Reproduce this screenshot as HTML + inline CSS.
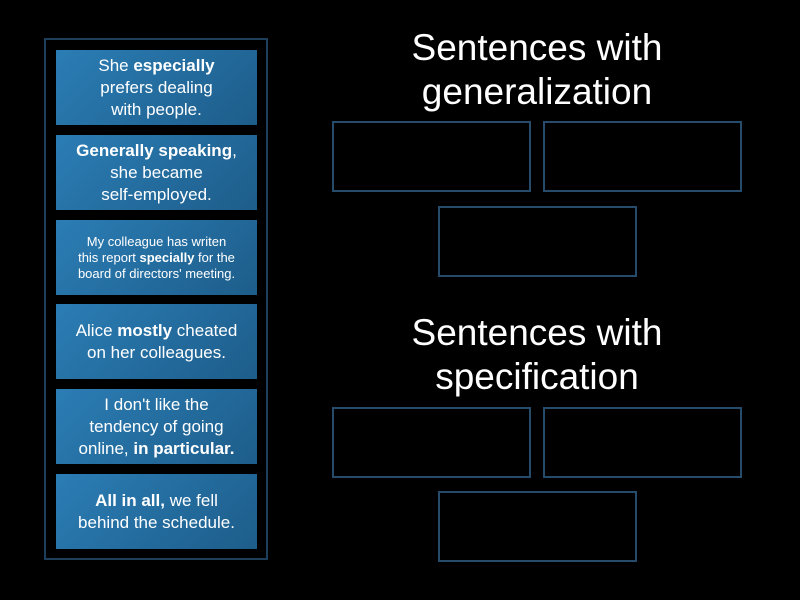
<!DOCTYPE html>
<html><head><style>
body{margin:0;width:800px;height:600px;background:#000;overflow:hidden;position:relative;font-family:"Liberation Sans",sans-serif;}
.panel{position:absolute;left:44px;top:38px;width:224px;height:522px;border:2px solid #1e3f5c;box-sizing:border-box;}
.card{position:absolute;left:56px;width:201px;height:75px;background:linear-gradient(135deg,#2b7db5,#1d5d8a);color:#fff;display:flex;align-items:center;justify-content:center;text-align:center;font-size:17px;line-height:22px;}
.card.s{font-size:13px;line-height:16px;}
.drop{position:absolute;width:199px;height:71px;border:2px solid #274b6a;box-sizing:border-box;}
.t{position:absolute;left:337px;width:400px;text-align:center;color:#fff;font-size:37px;line-height:44px;}
</style></head><body>
<div class="panel"></div>
<div class="card" style="top:50px"><div>She <b>especially</b><br>prefers dealing<br>with people.</div></div>
<div class="card" style="top:135px"><div><b>Generally speaking</b>,<br>she became<br>self-employed.</div></div>
<div class="card s" style="top:220px"><div>My colleague has writen<br>this report <b>specially</b> for the<br>board of directors' meeting.</div></div>
<div class="card" style="top:304px"><div>Alice <b>mostly</b> cheated<br>on her colleagues.</div></div>
<div class="card" style="top:389px"><div>I don't like the<br>tendency of going<br>online, <b>in particular.</b></div></div>
<div class="card" style="top:474px"><div><b>All in all,</b> we fell<br>behind the schedule.</div></div>
<div class="t" style="top:26px">Sentences with<br>generalization</div>
<div class="drop" style="left:332px;top:121px"></div>
<div class="drop" style="left:543px;top:121px"></div>
<div class="drop" style="left:438px;top:206px"></div>
<div class="t" style="top:311px">Sentences with<br>specification</div>
<div class="drop" style="left:332px;top:407px"></div>
<div class="drop" style="left:543px;top:407px"></div>
<div class="drop" style="left:438px;top:491px"></div>
</body></html>
